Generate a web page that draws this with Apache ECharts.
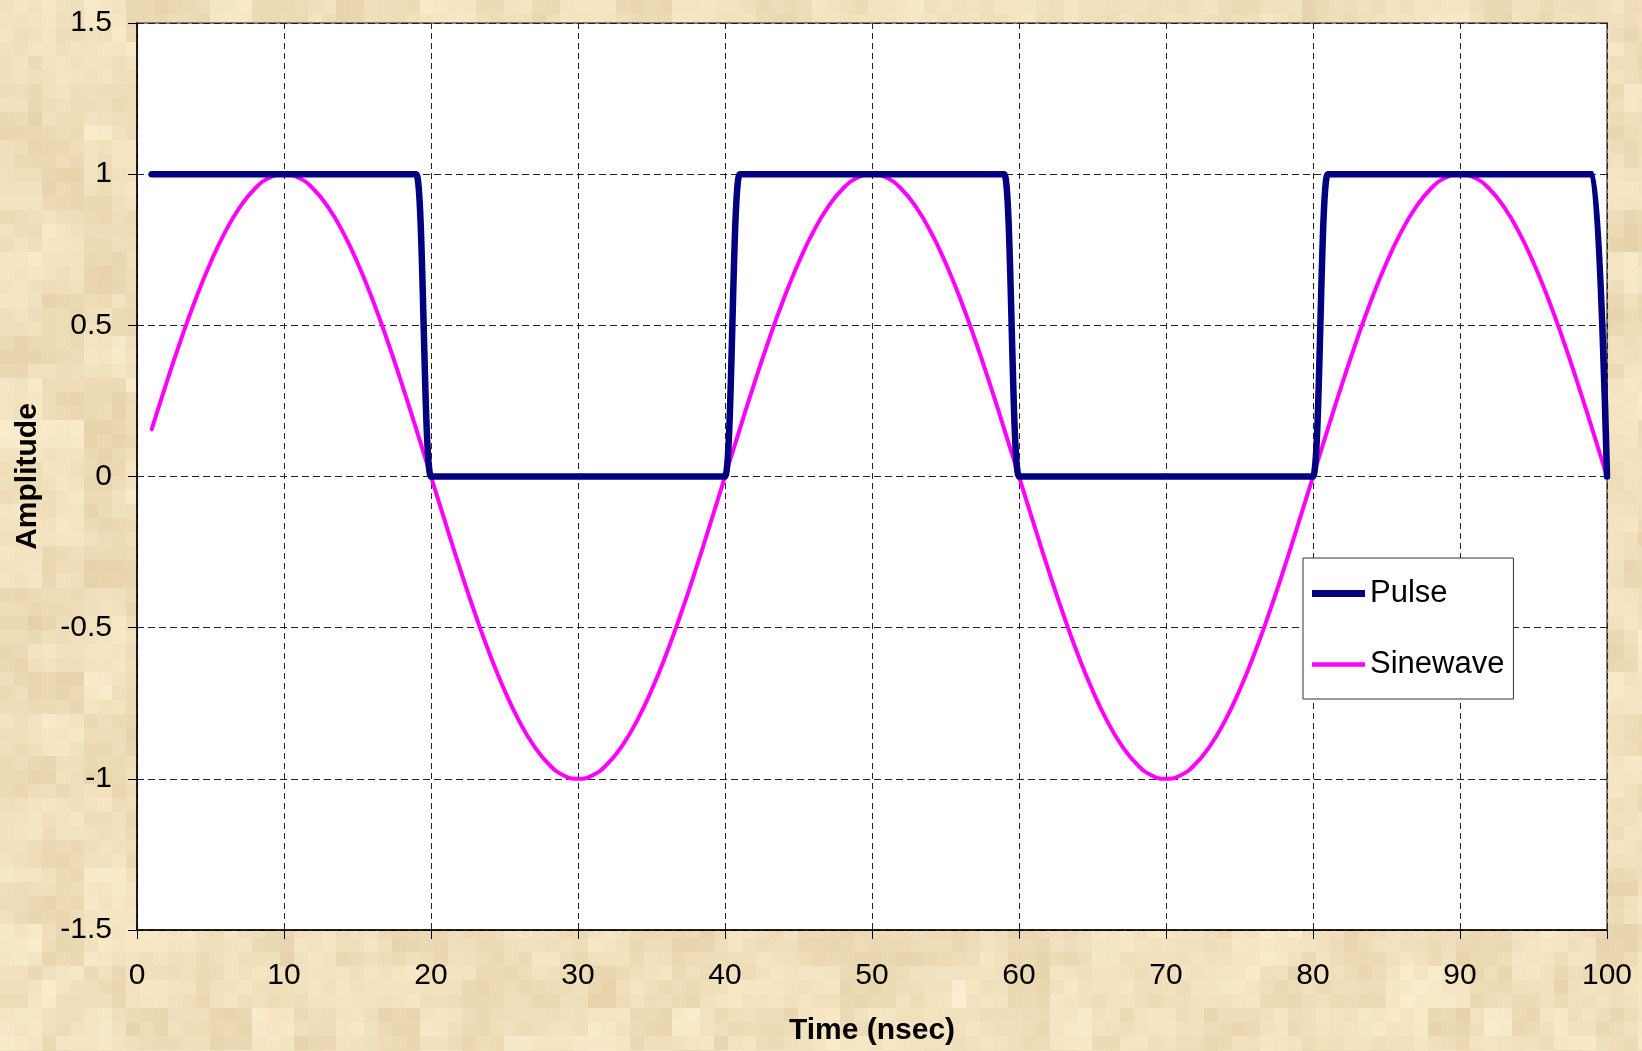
<!DOCTYPE html>
<html>
<head>
<meta charset="utf-8">
<title>Pulse and Sinewave</title>
<script src="https://cdn.jsdelivr.net/npm/echarts@6/dist/echarts.min.js"></script>
<style>
  html, body { margin: 0; padding: 0; }
  body { width: 1642px; height: 1051px; overflow: hidden; background: #f0dcb5; }
  #chart { width: 1642px; height: 1051px; }
</style>
</head>
<body>
<div id="chart"></div>
<script>
// Sample times (nsec)
const timeNs = [
  1, 2, 3, 4, 5, 6, 7, 8, 9, 10,
  11, 12, 13, 14, 15, 16, 17, 18, 19, 20,
  21, 22, 23, 24, 25, 26, 27, 28, 29, 30,
  31, 32, 33, 34, 35, 36, 37, 38, 39, 40,
  41, 42, 43, 44, 45, 46, 47, 48, 49, 50,
  51, 52, 53, 54, 55, 56, 57, 58, 59, 60,
  61, 62, 63, 64, 65, 66, 67, 68, 69, 70,
  71, 72, 73, 74, 75, 76, 77, 78, 79, 80,
  81, 82, 83, 84, 85, 86, 87, 88, 89, 90,
  91, 92, 93, 94, 95, 96, 97, 98, 99, 100
];

// Square pulse amplitude
const pulseValues = [
  1, 1, 1, 1, 1, 1, 1, 1, 1, 1,
  1, 1, 1, 1, 1, 1, 1, 1, 1, 0,
  0, 0, 0, 0, 0, 0, 0, 0, 0, 0,
  0, 0, 0, 0, 0, 0, 0, 0, 0, 0,
  1, 1, 1, 1, 1, 1, 1, 1, 1, 1,
  1, 1, 1, 1, 1, 1, 1, 1, 1, 0,
  0, 0, 0, 0, 0, 0, 0, 0, 0, 0,
  0, 0, 0, 0, 0, 0, 0, 0, 0, 0,
  1, 1, 1, 1, 1, 1, 1, 1, 1, 1,
  1, 1, 1, 1, 1, 1, 1, 1, 1, 0
];

// Sinewave amplitude (40 nsec period)
const sineValues = [
  0.156, 0.309, 0.454, 0.588, 0.707, 0.809, 0.891, 0.951, 0.988, 1.000,
  0.988, 0.951, 0.891, 0.809, 0.707, 0.588, 0.454, 0.309, 0.156, 0.000,
  -0.156, -0.309, -0.454, -0.588, -0.707, -0.809, -0.891, -0.951, -0.988, -1.000,
  -0.988, -0.951, -0.891, -0.809, -0.707, -0.588, -0.454, -0.309, -0.156, 0.000,
  0.156, 0.309, 0.454, 0.588, 0.707, 0.809, 0.891, 0.951, 0.988, 1.000,
  0.988, 0.951, 0.891, 0.809, 0.707, 0.588, 0.454, 0.309, 0.156, 0.000,
  -0.156, -0.309, -0.454, -0.588, -0.707, -0.809, -0.891, -0.951, -0.988, -1.000,
  -0.988, -0.951, -0.891, -0.809, -0.707, -0.588, -0.454, -0.309, -0.156, 0.000,
  0.156, 0.309, 0.454, 0.588, 0.707, 0.809, 0.891, 0.951, 0.988, 1.000,
  0.988, 0.951, 0.891, 0.809, 0.707, 0.588, 0.454, 0.309, 0.156, 0.000
];

const seriesNames = ['Pulse', 'Sinewave'];
const seriesColors = ['#000080', '#ff00ff'];
const seriesWidths = [6.5, 4];

// Parchment-style blocky background texture
function parchment(w, h) {
  const c = document.createElement('canvas');
  c.width = w; c.height = h;
  const g = c.getContext('2d');
  const hash = (i, j, s) => {
    const n = Math.sin(i * 127.1 + j * 311.7 + s * 74.7) * 43758.5453;
    return n - Math.floor(n);
  };
  const light = [252, 238, 206], dark = [228, 208, 168];
  const b = 14;
  for (let j = 0; j * b < h; j++) {
    for (let i = 0; i * b < w; i++) {
      const big = hash(Math.floor(i / 3), Math.floor(j / 3), 1);
      const mid = hash(Math.floor(i / 2), Math.floor(j / 2), 3);
      const small = hash(i, j, 2);
      const t = Math.min(1, Math.max(0, 0.45 * big + 0.3 * mid + 0.25 * small));
      const col = light.map((v, k) => Math.round(v + (dark[k] - v) * t));
      g.fillStyle = 'rgb(' + col.join(',') + ')';
      g.fillRect(i * b, j * b, b, b);
    }
  }
  return c.toDataURL();
}
document.body.style.backgroundImage = 'url(' + parchment(1642, 1051) + ')';

// Legend key: a plain stroke, thickness matching its series
function keyPath(thick) {
  return 'path://M0,0 L53,0 L53,' + thick + ' L0,' + thick + ' Z';
}

const font = "'Liberation Sans', Arial, sans-serif";
const chart = echarts.init(document.getElementById('chart'), null, { renderer: 'canvas' });

chart.setOption({
  backgroundColor: 'transparent',
  animation: false,
  grid: {
    left: 137, right: 35, top: 23, bottom: 121,
    show: true, backgroundColor: '#ffffff',
    borderColor: '#808080', borderWidth: 2
  },
  legend: {
    orient: 'vertical',
    left: 1303, top: 558,
    backgroundColor: '#ffffff',
    borderColor: '#333333', borderWidth: 1,
    padding: [20, 9, 19, 9],
    itemWidth: 53, itemHeight: 30, itemGap: 40,
    symbolKeepAspect: true,
    textStyle: { fontFamily: font, fontSize: 31, color: '#000' },
    data: seriesNames.map((n, i) => ({
      name: n,
      icon: keyPath(seriesWidths[i] + 0.5),
      itemStyle: { color: seriesColors[i] }
    }))
  },
  xAxis: {
    type: 'value', min: 0, max: 100, interval: 10,
    name: 'Time (nsec)', nameLocation: 'middle', nameGap: 86,
    nameTextStyle: { fontFamily: font, fontSize: 30, fontWeight: 'bold', color: '#000' },
    axisLine: { show: true, onZero: false, lineStyle: { color: '#000', width: 1.5 } },
    axisTick: { show: true, inside: false, length: 9, lineStyle: { color: '#000', width: 1 } },
    axisLabel: { fontFamily: font, fontSize: 30, color: '#000', margin: 31 },
    splitLine: { show: true, lineStyle: { color: '#222', width: 1, type: [6, 4] } }
  },
  yAxis: {
    type: 'value', min: -1.5, max: 1.5, interval: 0.5,
    name: 'Amplitude', nameLocation: 'middle', nameGap: 94,
    nameTextStyle: { fontFamily: font, fontSize: 30, fontWeight: 'bold', color: '#000' },
    axisLine: { show: true, onZero: false, lineStyle: { color: '#000', width: 1.5 } },
    axisTick: { show: true, inside: false, length: 9, lineStyle: { color: '#000', width: 1 } },
    axisLabel: { fontFamily: font, fontSize: 30, color: '#000', margin: 25 },
    splitLine: { show: true, lineStyle: { color: '#222', width: 1, type: [7, 4] } }
  },
  series: [
    {
      name: seriesNames[0], type: 'line', smooth: 0.25, showSymbol: false, symbol: 'none',
      lineStyle: { color: seriesColors[0], width: seriesWidths[0], cap: 'round', join: 'round' },
      itemStyle: { color: seriesColors[0] },
      data: timeNs.map((t, i) => [t, pulseValues[i]]),
      z: 3
    },
    {
      name: seriesNames[1], type: 'line', smooth: 0.5, showSymbol: false, symbol: 'none',
      lineStyle: { color: seriesColors[1], width: seriesWidths[1], cap: 'round', join: 'round' },
      itemStyle: { color: seriesColors[1] },
      data: timeNs.map((t, i) => [t, sineValues[i]]),
      z: 2
    }
  ]
});
</script>
</body>
</html>
